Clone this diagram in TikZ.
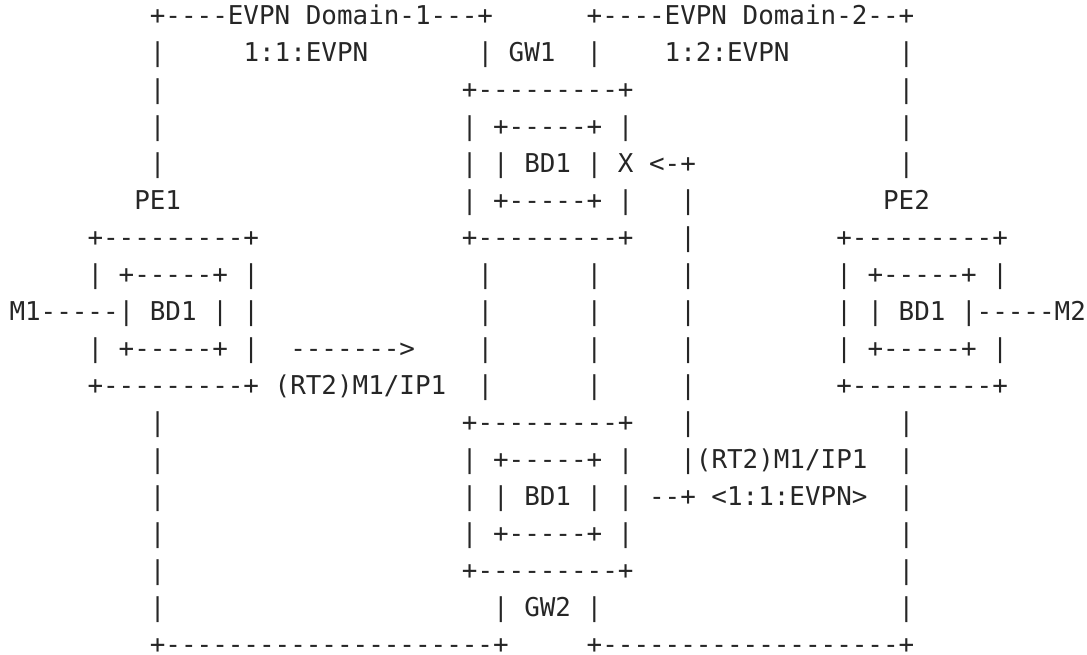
\documentclass[tikz,border=0pt]{standalone}
\usepackage{fontspec}
\newfontfamily\asciifont{DejaVu Sans Mono}
\definecolor{ink}{HTML}{262626}
\tikzset{
  asc/.style={anchor=base west, inner sep=0pt, outer sep=0pt, text=ink,
    font=\asciifont\fontsize{25.91pt}{37pt}\selectfont}
}
\begin{document}
\begin{tikzpicture}
\useasboundingbox (0pt,0pt) rectangle (1087pt,-654pt);
\begin{scope}[shift={(9.5pt,-24pt)}, x=15.6pt, y=-37.05pt]
% row 0
\node[asc] (r0a) at (9,0) {+----EVPN~Domain-1---+};
\node[asc] (r0b) at (37,0) {+----EVPN~Domain-2--+};
% row 1
\node[asc] (r1a) at (9,1) {|};
\node[asc] (r1b) at (15,1) {1:1:EVPN};
\node[asc] (r1c) at (30,1) {|~GW1~~|};
\node[asc] (r1d) at (42,1) {1:2:EVPN};
\node[asc] (r1e) at (57,1) {|};
% row 2
\node[asc] (r2a) at (9,2) {|};
\node[asc] (r2b) at (29,2) {+---------+};
\node[asc] (r2c) at (57,2) {|};
% row 3
\node[asc] (r3a) at (9,3) {|};
\node[asc] (r3b) at (29,3) {|~+-----+~|};
\node[asc] (r3c) at (57,3) {|};
% row 4
\node[asc] (r4a) at (9,4) {|};
\node[asc] (r4b) at (29,4) {|~|~BD1~|~X~<-+};
\node[asc] (r4c) at (57,4) {|};
% row 5
\node[asc] (r5a) at (8,5) {PE1};
\node[asc] (r5b) at (29,5) {|~+-----+~|};
\node[asc] (r5c) at (43,5) {|};
\node[asc] (r5d) at (56,5) {PE2};
% row 6
\node[asc] (r6a) at (5,6) {+---------+};
\node[asc] (r6b) at (29,6) {+---------+};
\node[asc] (r6c) at (43,6) {|};
\node[asc] (r6d) at (53,6) {+---------+};
% row 7
\node[asc] (r7a) at (5,7) {|~+-----+~|};
\node[asc] (r7b) at (30,7) {|};
\node[asc] (r7c) at (37,7) {|};
\node[asc] (r7d) at (43,7) {|};
\node[asc] (r7e) at (53,7) {|~+-----+~|};
% row 8
\node[asc] (r8a) at (0,8) {M1-----|~BD1~|~|};
\node[asc] (r8b) at (30,8) {|};
\node[asc] (r8c) at (37,8) {|};
\node[asc] (r8d) at (43,8) {|};
\node[asc] (r8e) at (53,8) {|~|~BD1~|-----M2};
% row 9
\node[asc] (r9a) at (5,9) {|~+-----+~|};
\node[asc] (r9b) at (18,9) {------->};
\node[asc] (r9c) at (30,9) {|};
\node[asc] (r9d) at (37,9) {|};
\node[asc] (r9e) at (43,9) {|};
\node[asc] (r9f) at (53,9) {|~+-----+~|};
% row 10
\node[asc] (r10a) at (5,10) {+---------+~(RT2)M1/IP1};
\node[asc] (r10b) at (30,10) {|};
\node[asc] (r10c) at (37,10) {|};
\node[asc] (r10d) at (43,10) {|};
\node[asc] (r10e) at (53,10) {+---------+};
% row 11
\node[asc] (r11a) at (9,11) {|};
\node[asc] (r11b) at (29,11) {+---------+};
\node[asc] (r11c) at (43,11) {|};
\node[asc] (r11d) at (57,11) {|};
% row 12
\node[asc] (r12a) at (9,12) {|};
\node[asc] (r12b) at (29,12) {|~+-----+~|};
\node[asc] (r12c) at (43,12) {|(RT2)M1/IP1};
\node[asc] (r12d) at (57,12) {|};
% row 13
\node[asc] (r13a) at (9,13) {|};
\node[asc] (r13b) at (29,13) {|~|~BD1~|~|~--+~<1:1:EVPN>};
\node[asc] (r13c) at (57,13) {|};
% row 14
\node[asc] (r14a) at (9,14) {|};
\node[asc] (r14b) at (29,14) {|~+-----+~|};
\node[asc] (r14c) at (57,14) {|};
% row 15
\node[asc] (r15a) at (9,15) {|};
\node[asc] (r15b) at (29,15) {+---------+};
\node[asc] (r15c) at (57,15) {|};
% row 16
\node[asc] (r16a) at (9,16) {|};
\node[asc] (r16b) at (31,16) {|~GW2~|};
\node[asc] (r16c) at (57,16) {|};
% row 17
\node[asc] (r17a) at (9,17) {+---------------------+};
\node[asc] (r17b) at (37,17) {+-------------------+};
\end{scope}
\end{tikzpicture}
\end{document}
